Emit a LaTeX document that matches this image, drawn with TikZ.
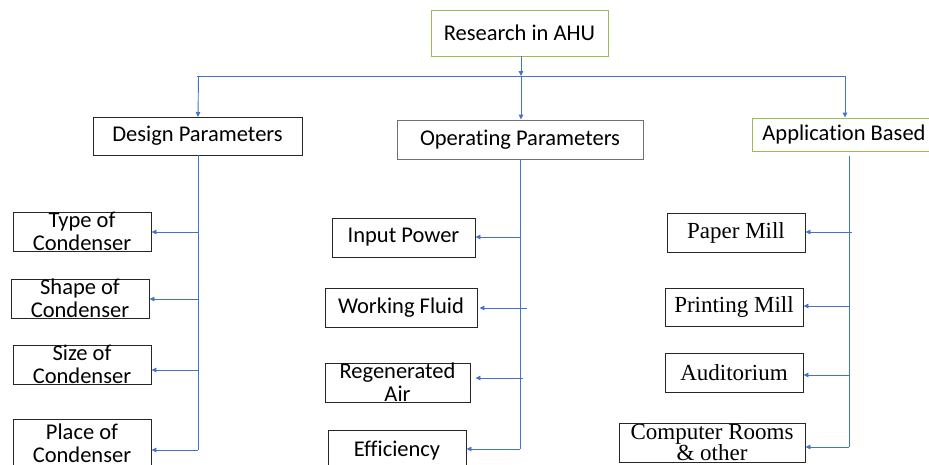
\documentclass[tikz,border=0pt]{standalone}
\usepackage{fontspec}
\setmainfont{Carlito}[Ligatures={NoCommon}]
\newfontfamily\tnr{Liberation Serif}
\usetikzlibrary{arrows.meta}
\definecolor{lineblue}{HTML}{4472C4}
\definecolor{boxgreen}{HTML}{9BBB59}
\definecolor{boxgray}{HTML}{707070}
\tikzset{
  box/.style={draw=black!85, line width=0.9pt, inner sep=0pt, align=center, font=\fontsize{22.5}{23}\selectfont},
  gbox/.style={box, draw=boxgreen},
  tbox/.style={box, font=\tnr\fontsize{23}{20}\selectfont},
  conn/.style={draw=lineblue, line width=0.9pt},
  arr/.style={conn, -{Triangle[length=5pt,width=4.5pt]}},
}
\newcommand{\bx}[7]{\node[#7, minimum width={#4-#2}, minimum height={#5-#3}] (#1) at ({(#2+#4)/2},{(#3+#5)/2}) {#6};}
\begin{document}
\begin{tikzpicture}[x=1pt,y=-1pt]
\useasboundingbox (0,0) rectangle (929,464);
% top level
\bx{top}{431}{10}{608}{56}{Research in AHU}{gbox}
\bx{design}{93}{117}{302}{155}{Design Parameters}{box}
\bx{oper}{397}{120}{643}{159}{Operating Parameters}{box, draw=boxgray}
\bx{appl}{752}{118}{940}{151}{\hspace*{-4pt}Application Based}{gbox}
% design children
\bx{type}{13}{212}{151}{251}{Type of\\Condenser}{box}
\bx{shape}{11}{279}{149}{318}{Shape of\\Condenser}{box}
\bx{size}{13}{345}{151}{384}{Size of\\Condenser}{box}
\bx{place}{13}{419}{151}{468}{Place of\\Condenser}{box}
% operating children
\bx{input}{332}{218}{475}{257}{Input Power}{box}
\bx{fluid}{325}{288}{477}{327}{Working Fluid}{box}
\bx{regen}{325}{363}{470}{402}{Regenerated\\Air}{box}
\bx{eff}{328}{430}{466}{472}{Efficiency}{box}
% application children
\bx{paper}{667}{213}{805}{252}{Paper Mill}{tbox}
\bx{print}{665}{288}{803}{326}{Printing Mill}{tbox}
\bx{audi}{665}{353}{803}{392}{Auditorium}{tbox}
\bx{comp}{619}{423}{805}{462}{Computer Rooms\\\& other}{tbox}
% main bus
\coordinate (busmid) at (521,76);
\coordinate (busL) at (197,76);
\coordinate (busR) at (845,76);
\draw[arr] (top.south -| busmid) -- (busmid);
\draw[conn] (busL) -- (busR);
\draw[arr] (busL -| design.north) ++(1,0) -- (198,117);
\draw[arr] (busmid) -- (busmid |- oper.north);
\draw[arr] (busR) -- (busR |- appl.north);
% design trunk
\coordinate (dt) at (198,155);
\coordinate (d1) at (198,232);
\coordinate (d2) at (198,299);
\coordinate (d3) at (198,370);
\coordinate (d4) at (198,450);
\draw[conn] (dt) -- (d4);
\draw[arr] (d1) -- (d1 -| type.east);
\draw[arr] (d2) -- (d2 -| shape.east);
\draw[arr] (d3) -- (d3 -| size.east);
\draw[arr] (d4) -- (d4 -| place.east);
% operating trunk
\coordinate (ot) at (520,159);
\coordinate (o1) at (520,237);
\coordinate (o2) at (527,308);
\coordinate (o3) at (523,378);
\coordinate (o4) at (520,449);
\draw[conn] (ot) -- (o4);
\draw[arr] (o1) -- (o1 -| input.east);
\draw[arr] (o2) -- ([xshift=2pt]o2 -| fluid.east);
\draw[arr] (o3) -- ([xshift=5pt]o3 -| regen.east);
\draw[arr] (o4) -- (o4 -| eff.east);
% application trunk
\coordinate (at) at (849,156);
\coordinate (a1) at (852,232);
\coordinate (a2) at (849,306);
\coordinate (a3) at (849,375);
\coordinate (a4) at (849,447);
\draw[conn] (at) -- (a4);
\draw[arr] (a1) -- (a1 -| paper.east);
\draw[arr] (a2) -- (a2 -| print.east);
\draw[arr] (a3) -- (a3 -| audi.east);
\draw[arr] (a4) -- (a4 -| comp.east);
\end{tikzpicture}
\end{document}
